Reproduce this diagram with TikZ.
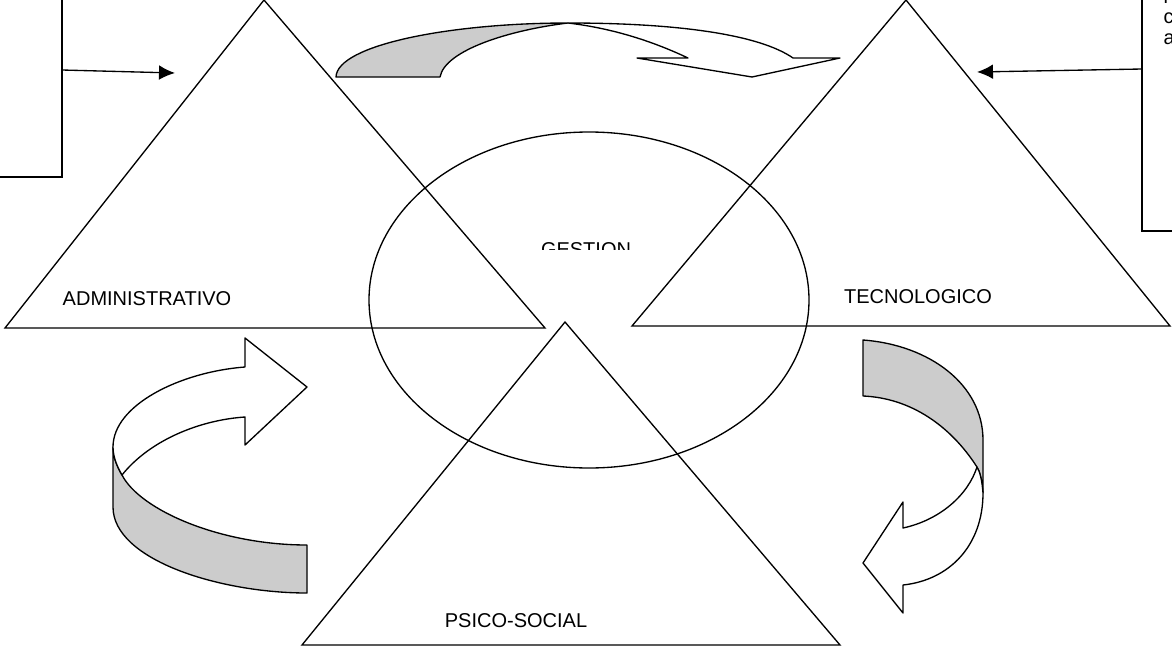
\documentclass[tikz,border=0pt]{standalone}
\usepackage{fontspec}
\setmainfont{Liberation Sans}
\usetikzlibrary{arrows.meta}
\begin{document}
\begin{tikzpicture}[x=0.75pt,y=-0.75pt,line width=1pt,
  labelsty/.style={anchor=base,inner sep=0pt,font=\fontsize{15}{18}\selectfont},
  boxtext/.style={anchor=base west,inner sep=0pt,font=\fontsize{15}{18}\selectfont},
  band/.style={draw,fill=black!20,line join=round},
  front/.style={draw,fill=white,line join=round},
  pointer/.style={-{Latex[length=12pt,width=11pt]}}]

  \useasboundingbox (0,0) rectangle (1172,650);
  \clip (0,0) rectangle (1172,650);

  \draw (-10,-10) rectangle (62,177);
  \draw (1142,-10) rectangle (1190,231);
  \node[boxtext] (noteone) at (1163,3) {l};
  \node[boxtext] (notetwo) at (1163,23.5) {c};
  \node[boxtext] (notethree) at (1163,44) {a};

  \draw (5,328) -- (264,0) -- (545,328) -- cycle;
  \draw (632,326) -- (906,0) -- (1170,326) -- cycle;
  \draw (302,645) -- (565,322) -- (840,645) -- cycle;
  \draw (589,300) ellipse [x radius=220, y radius=168];

  \node[labelsty] (admin) at (147,305) {ADMINISTRATIVO};
  \node[labelsty] (tecno) at (918,303) {TECNOLOGICO};
  \node[labelsty] (psico) at (516,627) {PSICO-SOCIAL};
  \begin{scope}
    \clip (480,230) rectangle (700,249);
    \node[labelsty] (gestion) at (586,256) {GESTION};
  \end{scope}

  \coordinate (leftout) at (62,70);
  \coordinate (lefttip) at (175,73);
  \coordinate (rightout) at (1142,69);
  \coordinate (righttip) at (977,72);
  \draw[pointer] (leftout) -- (lefttip);
  \draw[pointer] (rightout) -- (righttip);

  \draw[band] (336,77) -- (440,77) .. controls (445,50) and (510,30) .. (568,23)
    .. controls (450,23) and (337,45) .. cycle;
  \draw[front] (568,23) .. controls (680,23) and (760,35) .. (793,58) -- (840,58)
    -- (752,77) -- (637,58) -- (688,58) .. controls (650,40) and (610,28) .. cycle;

  \draw[band] (113,447) -- (113,507) .. controls (113,560) and (220,593) .. (307,593)
    -- (307,545) .. controls (220,545) and (140,510) .. (122,475)
    .. controls (118,468) and (113,458) .. cycle;
  \draw[front] (245,367) .. controls (180,372) and (113,405) .. (113,447)
    .. controls (113,458) and (118,468) .. (122,475)
    .. controls (150,440) and (200,420) .. (245,417) -- (245,445) -- (307,387)
    -- (245,338) -- cycle;

  \draw[band] (863,340) .. controls (930,345) and (983,385) .. (983,440) -- (983,493)
    .. controls (982,480) and (980,472) .. (977,467)
    .. controls (950,425) and (910,398) .. (863,396) -- cycle;
  \draw[front] (983,493) .. controls (983,545) and (950,580) .. (903,585) -- (903,613)
    -- (863,563) -- (903,502) -- (903,528) .. controls (940,520) and (968,495) .. (977,467)
    .. controls (980,472) and (982,480) .. cycle;

\end{tikzpicture}
\end{document}
